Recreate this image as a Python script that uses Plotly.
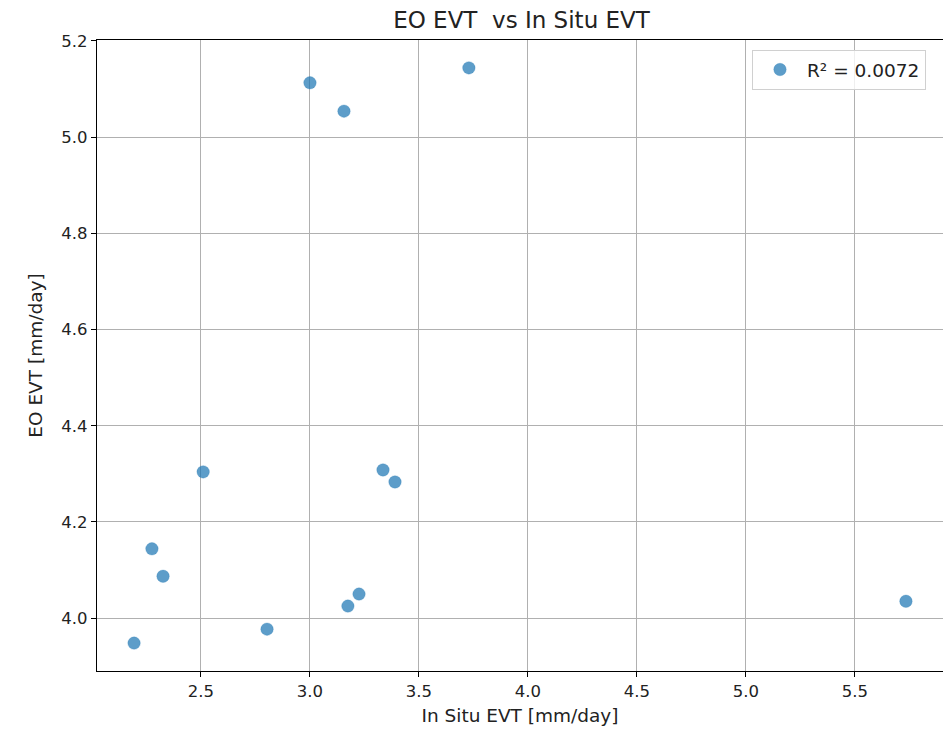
import plotly.graph_objects as go

in_situ = [2.193, 2.275, 2.326, 2.510, 2.803, 3.000, 3.156, 3.174, 3.225, 3.335, 3.390, 3.729, 5.734]
eo_evt = [3.948, 4.144, 4.087, 4.304, 3.977, 5.113, 5.054, 4.025, 4.050, 4.308, 4.283, 5.144, 4.035]
x_ticks = [2.5, 3.0, 3.5, 4.0, 4.5, 5.0, 5.5]
y_ticks = [4.0, 4.2, 4.4, 4.6, 4.8, 5.0, 5.2]
legend_label = "R² = 0.0072"

font = "DejaVu Sans"
fig = go.Figure()
fig.add_trace(go.Scatter(
    x=in_situ, y=eo_evt, mode="markers", name=legend_label,
    marker=dict(color="rgba(31,119,180,0.72)", size=12.5,
                line=dict(color="rgba(31,119,180,0.25)", width=1)),
    showlegend=True,
))

axis_common = dict(
    showgrid=True, gridcolor="#b0b0b0", gridwidth=1,
    showline=True, linecolor="black", linewidth=1.2,
    ticks="outside", ticklen=5, tickcolor="black", tickwidth=1,
    zeroline=False, tickfont=dict(family=font, size=16.5, color="#222222"),
)

fig.update_layout(
    width=943, height=733,
    margin=dict(l=97, r=0, t=40, b=62),
    paper_bgcolor="white", plot_bgcolor="white",
    title=dict(text="EO EVT\u00a0\u00a0vs In Situ EVT", x=(97 + 946) / 2 / 943, xanchor="center",
               y=1 - 20 / 733, yanchor="middle",
               font=dict(family=font, size=23, color="#222222")),
    xaxis=dict(range=[2.023, 5.904], tickvals=x_ticks, ticktext=[f"{v:.1f}" for v in x_ticks],
               mirror=True,
               title=dict(text="In Situ EVT [mm/day]", font=dict(family=font, size=18.5, color="#222222"), standoff=9),
               **axis_common),
    yaxis=dict(range=[3.890, 5.202], tickvals=y_ticks, ticktext=[f"{v:.1f}" for v in y_ticks],
               title=dict(text="EO EVT [mm/day]", font=dict(family=font, size=18.5, color="#222222"), standoff=13),
               **axis_common),
    legend=dict(x=(752 - 97) / 846, y=(671 - 50) / 631, xanchor="left", yanchor="top",
                bordercolor="#d0d0d0", borderwidth=1, bgcolor="rgba(255,255,255,0.8)",
                itemwidth=44,
                font=dict(family=font, size=18.5, color="#222222")),
    showlegend=True,
)

fig.write_html("out.html")
